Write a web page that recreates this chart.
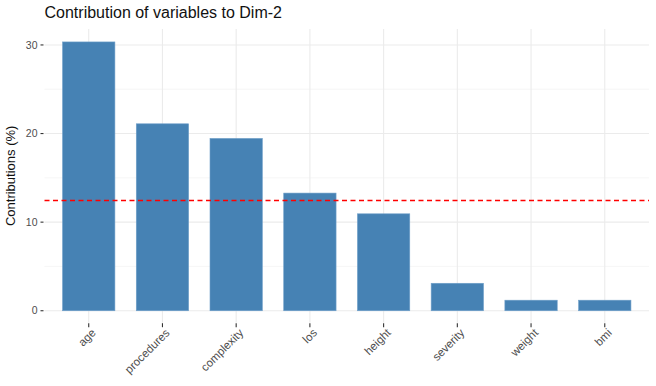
<!DOCTYPE html>
<html>
<head>
<meta charset="utf-8">
<script src="https://cdn.jsdelivr.net/npm/d3@7"></script>
<style>
  body { margin: 0; background: #fff; }
  text { font-family: "Liberation Sans", Arial, sans-serif; }
</style>
</head>
<body>
<div id="chart"></div>
<script>
const variables = ['age', 'procedures', 'complexity', 'los', 'height', 'severity', 'weight', 'bmi'];
const contrib = [30.34, 21.1, 19.45, 13.28, 10.94, 3.1, 1.19, 1.19];
const yTicks = [0, 10, 20, 30];
const yMinor = [5, 15, 25];
const expected = 12.5; // 100 / 8 variables

const w = 656,
  h = 386;
const panel = { left: 44.5, right: 649, top: 29, bottom: 322.7 };

const svg = d3
  .select('#chart')
  .append('svg')
  .attr('width', w)
  .attr('height', h);

// bar width 0.71 of step, 0.6 step of space outside the outer bar centres
const x = d3
  .scaleBand()
  .domain(variables)
  .range([panel.left, panel.right])
  .paddingInner(0.29)
  .paddingOuter(0.245);

const y = d3
  .scaleLinear()
  .domain([-1.35, 31.8])
  .range([panel.bottom, panel.top]);

const cx = (d) => x(d) + x.bandwidth() / 2;

// grid
svg
  .selectAll('.minor')
  .data(yMinor)
  .join('line')
  .attr('x1', panel.left)
  .attr('x2', panel.right)
  .attr('y1', (d) => y(d))
  .attr('y2', (d) => y(d))
  .attr('stroke', '#f2f2f2')
  .attr('stroke-width', 0.7);

svg
  .selectAll('.major')
  .data(yTicks)
  .join('line')
  .attr('x1', panel.left)
  .attr('x2', panel.right)
  .attr('y1', (d) => y(d))
  .attr('y2', (d) => y(d))
  .attr('stroke', '#ebebeb')
  .attr('stroke-width', 1.1);

svg
  .selectAll('.vgrid')
  .data(variables)
  .join('line')
  .attr('x1', cx)
  .attr('x2', cx)
  .attr('y1', panel.top)
  .attr('y2', panel.bottom)
  .attr('stroke', '#ebebeb')
  .attr('stroke-width', 1.1);

// bars
svg
  .selectAll('.bar')
  .data(variables)
  .join('rect')
  .attr('x', (d) => x(d))
  .attr('width', x.bandwidth())
  .attr('y', (d, i) => y(contrib[i]))
  .attr('height', (d, i) => y(0) - y(contrib[i]))
  .attr('fill', 'steelblue')
  .attr('stroke', '#6f9fc9')
  .attr('stroke-width', 0.6);

// expected contribution line
svg
  .append('line')
  .attr('x1', panel.left)
  .attr('x2', panel.right)
  .attr('y1', y(expected) + 0.5)
  .attr('y2', y(expected) + 0.5)
  .attr('stroke', 'red')
  .attr('stroke-width', 1.4)
  .attr('stroke-dasharray', '5,3.5');

// y axis
svg
  .selectAll('.ytick')
  .data(yTicks)
  .join('line')
  .attr('x1', panel.left - 4)
  .attr('x2', panel.left - 1)
  .attr('y1', (d) => y(d))
  .attr('y2', (d) => y(d))
  .attr('stroke', '#333')
  .attr('stroke-width', 1.1);

svg
  .selectAll('.ylab')
  .data(yTicks)
  .join('text')
  .attr('x', panel.left - 7)
  .attr('y', (d) => y(d))
  .attr('dy', '0.35em')
  .attr('text-anchor', 'end')
  .attr('font-size', 10.5)
  .attr('fill', '#4d4d4d')
  .text((d) => d);

// x axis
svg
  .selectAll('.xtick')
  .data(variables)
  .join('line')
  .attr('x1', cx)
  .attr('x2', cx)
  .attr('y1', panel.bottom + 0.5)
  .attr('y2', panel.bottom + 4.5)
  .attr('stroke', '#333')
  .attr('stroke-width', 1.1);

svg
  .selectAll('.xlab')
  .data(variables)
  .join('text')
  .attr('transform', (d) => `translate(${cx(d) + 5},${panel.bottom + 8}) rotate(-45)`)
  .attr('text-anchor', 'end')
  .attr('dy', '0.35em')
  .attr('font-size', 11.5)
  .attr('fill', '#4d4d4d')
  .text((d) => d);

// titles
svg
  .append('text')
  .attr('x', panel.left)
  .attr('y', 18)
  .attr('font-size', 16)
  .attr('fill', '#111')
  .text('Contribution of variables to Dim-2');

svg
  .append('text')
  .attr('transform', `translate(15,${(panel.top + panel.bottom) / 2}) rotate(-90)`)
  .attr('text-anchor', 'middle')
  .attr('font-size', 13)
  .attr('fill', '#111')
  .text('Contributions (%)');
</script>
</body>
</html>
